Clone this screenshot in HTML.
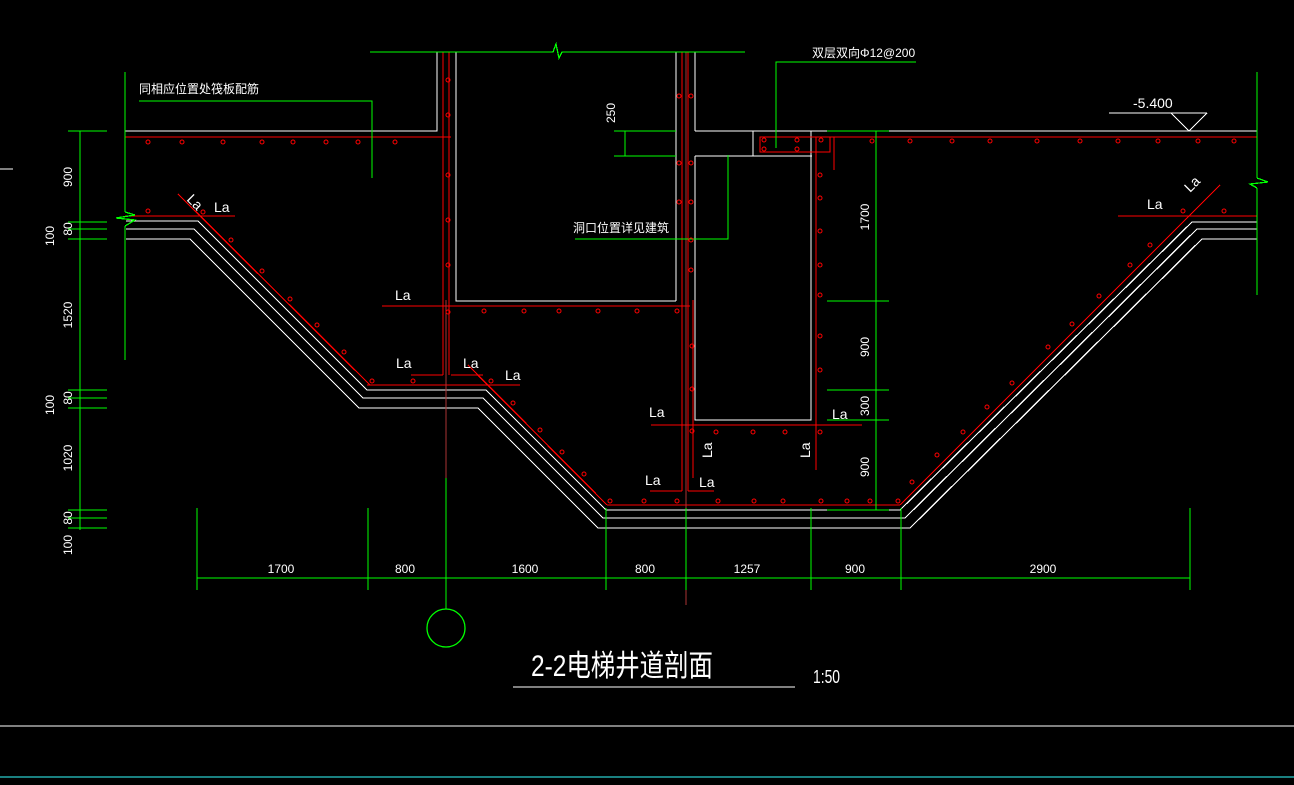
<!DOCTYPE html>
<html><head><meta charset="utf-8"><style>
html,body{margin:0;padding:0;background:#000;}
svg{display:block}
text{font-family:"Liberation Sans","Noto Sans CJK SC",sans-serif;fill:#fff;}
</style></head><body>
<svg width="1294" height="785" viewBox="0 0 1294 785" xmlns="http://www.w3.org/2000/svg">
<rect width="1294" height="785" fill="#000"/>
<g fill="none" stroke-width="1.3" shape-rendering="crispEdges">
<g stroke="#fff">
<line x1="0" y1="169" x2="13" y2="169"/>
<polyline points="125,131 437,131 437,52"/>
<polyline points="456,52 456,301 676,301"/>
<line x1="676" y1="52" x2="676" y2="301"/>
<line x1="695" y1="52" x2="695" y2="131"/>
<line x1="695" y1="131" x2="1257" y2="131"/>
<line x1="695" y1="156" x2="812" y2="156"/>
<line x1="753" y1="131" x2="753" y2="156"/>
<polyline points="695,156 695,420 811,420 811,131"/>
<polyline points="126,221 198,221 367,390 486,390 606,510 900,510 1192,222 1257,222"/>
<polyline points="126,229 194,229 363,398 483,398 603,518 905,518 1197,229 1257,229"/>
<polyline points="126,239 190,239 359,408 478,408 598,528 910,528 1202,239 1257,239"/>
<line x1="1109" y1="113" x2="1207" y2="113"/>
<polyline points="1171,113 1189,131 1207,113"/>
<line x1="513" y1="687" x2="795" y2="687"/>
<line x1="0" y1="726" x2="1294" y2="726"/>
</g>
<line x1="0" y1="777" x2="1294" y2="777" stroke="#3ff"/>
<g stroke="#f00">
<line x1="125" y1="137" x2="451" y2="137"/>
<line x1="443" y1="52" x2="443" y2="375"/>
<line x1="449" y1="52" x2="449" y2="375"/>
<line x1="411" y1="375" x2="443" y2="375"/>
<line x1="451" y1="375" x2="483" y2="375"/>
<line x1="682" y1="52" x2="682" y2="491"/>
<line x1="688" y1="52" x2="688" y2="491"/>
<line x1="693" y1="300" x2="693" y2="478"/>
<line x1="650" y1="491" x2="682" y2="491"/>
<line x1="688" y1="491" x2="714" y2="491"/>
<line x1="760" y1="137" x2="1257" y2="137"/>
<rect x="760" y="137" width="70" height="15"/>
<line x1="816" y1="137" x2="816" y2="470"/>
<line x1="834" y1="137" x2="834" y2="170"/>
<line x1="125" y1="216" x2="235" y2="216"/>
<line x1="178" y1="194" x2="370" y2="385"/>
<line x1="367" y1="385" x2="520" y2="385"/>
<line x1="468" y1="365" x2="607" y2="505"/>
<line x1="607" y1="505" x2="900" y2="505"/>
<line x1="900" y1="505" x2="1220" y2="185"/>
<line x1="1118" y1="216" x2="1257" y2="216"/>
<line x1="382" y1="306" x2="690" y2="306"/>
<line x1="651" y1="425" x2="862" y2="425"/>
</g>
<line x1="686" y1="52" x2="686" y2="605" stroke="#a33"/>
<line x1="446" y1="300" x2="446" y2="478" stroke="#a33"/>
<g stroke="#0f0">
<polyline points="370,52 553,52 556,44 559,58 562,52 745,52"/>
<polyline points="776,148 776,62 916,62"/>
<polyline points="139,101 372,101 372,178"/>
<polyline points="575,239 728,239 728,155"/>
<line x1="125" y1="72" x2="125" y2="212"/>
<line x1="125" y1="226" x2="125" y2="360"/>
<polyline points="125,212 135,215 116,218 135,220 125,226"/>
<line x1="625" y1="131" x2="625" y2="156"/>
<line x1="614" y1="131" x2="676" y2="131"/>
<line x1="614" y1="156" x2="676" y2="156"/>
<line x1="80" y1="131" x2="80" y2="530"/>
<line x1="68" y1="131" x2="107" y2="131"/>
<line x1="68" y1="222" x2="107" y2="222"/><line x1="68" y1="229" x2="107" y2="229"/><line x1="68" y1="239" x2="107" y2="239"/>
<line x1="68" y1="390" x2="107" y2="390"/><line x1="68" y1="398" x2="107" y2="398"/><line x1="68" y1="408" x2="107" y2="408"/>
<line x1="68" y1="510" x2="107" y2="510"/><line x1="68" y1="518" x2="107" y2="518"/><line x1="68" y1="528" x2="107" y2="528"/>
<line x1="876" y1="131" x2="876" y2="510"/>
<line x1="827" y1="131" x2="889" y2="131"/><line x1="827" y1="301" x2="889" y2="301"/><line x1="827" y1="390" x2="889" y2="390"/><line x1="827" y1="420" x2="889" y2="420"/><line x1="827" y1="510" x2="889" y2="510"/>
<line x1="1257" y1="72" x2="1257" y2="178"/>
<polyline points="1257,178 1268,182 1250,184 1257,188"/>
<line x1="1257" y1="188" x2="1257" y2="295"/>
<line x1="197" y1="578" x2="1190" y2="578"/>
<line x1="197" y1="508" x2="197" y2="590"/>
<line x1="368" y1="508" x2="368" y2="590"/>
<line x1="446" y1="478" x2="446" y2="609"/>
<line x1="606" y1="508" x2="606" y2="590"/>
<line x1="686" y1="508" x2="686" y2="590"/>
<line x1="811" y1="508" x2="811" y2="590"/>
<line x1="901" y1="508" x2="901" y2="590"/>
<line x1="1190" y1="508" x2="1190" y2="590"/>
<circle cx="446" cy="628" r="19" shape-rendering="auto"/>
</g>
<g stroke="#f00" stroke-width="1" shape-rendering="auto">
<circle cx="148" cy="142" r="2"/><circle cx="182" cy="142" r="2"/><circle cx="223" cy="142" r="2"/><circle cx="262" cy="142" r="2"/><circle cx="293" cy="142" r="2"/><circle cx="326" cy="142" r="2"/><circle cx="358" cy="142" r="2"/><circle cx="395" cy="142" r="2"/>
<circle cx="148" cy="211" r="2"/><circle cx="203" cy="212" r="2"/><circle cx="231" cy="240" r="2"/><circle cx="262" cy="271" r="2"/><circle cx="290" cy="299" r="2"/><circle cx="317" cy="325" r="2"/><circle cx="344" cy="352" r="2"/>
<circle cx="372" cy="381" r="2"/><circle cx="413" cy="381" r="2"/><circle cx="491" cy="381" r="2"/><circle cx="513" cy="403" r="2"/><circle cx="540" cy="430" r="2"/><circle cx="562" cy="452" r="2"/><circle cx="584" cy="474" r="2"/>
<circle cx="448" cy="312" r="2"/><circle cx="484" cy="311" r="2"/><circle cx="524" cy="311" r="2"/><circle cx="559" cy="311" r="2"/><circle cx="598" cy="311" r="2"/><circle cx="637" cy="311" r="2"/><circle cx="677" cy="311" r="2"/>
<circle cx="448" cy="80" r="2"/><circle cx="448" cy="115" r="2"/><circle cx="448" cy="175" r="2"/><circle cx="448" cy="220" r="2"/><circle cx="448" cy="265" r="2"/>
<circle cx="679" cy="96" r="2"/><circle cx="691" cy="96" r="2"/><circle cx="679" cy="163" r="2"/><circle cx="691" cy="163" r="2"/><circle cx="679" cy="202" r="2"/><circle cx="691" cy="202" r="2"/><circle cx="691" cy="240" r="2"/><circle cx="691" cy="270" r="2"/><circle cx="692" cy="346" r="2"/><circle cx="692" cy="389" r="2"/>
<circle cx="764" cy="140" r="2"/><circle cx="797" cy="140" r="2"/><circle cx="764" cy="149" r="2"/><circle cx="797" cy="149" r="2"/><circle cx="821" cy="140" r="2"/><circle cx="872" cy="141" r="2"/><circle cx="910" cy="141" r="2"/><circle cx="952" cy="141" r="2"/><circle cx="990" cy="141" r="2"/><circle cx="1037" cy="141" r="2"/><circle cx="1080" cy="141" r="2"/><circle cx="1118" cy="141" r="2"/><circle cx="1158" cy="141" r="2"/><circle cx="1198" cy="141" r="2"/><circle cx="1234" cy="141" r="2"/>
<circle cx="820" cy="175" r="2"/><circle cx="820" cy="198" r="2"/><circle cx="820" cy="231" r="2"/><circle cx="820" cy="265" r="2"/><circle cx="820" cy="295" r="2"/><circle cx="820" cy="336" r="2"/><circle cx="820" cy="370" r="2"/>
<circle cx="692" cy="431" r="2"/><circle cx="716" cy="432" r="2"/><circle cx="753" cy="432" r="2"/><circle cx="785" cy="432" r="2"/><circle cx="820" cy="432" r="2"/>
<circle cx="610" cy="501" r="2"/><circle cx="644" cy="501" r="2"/><circle cx="677" cy="501" r="2"/><circle cx="718" cy="501" r="2"/><circle cx="754" cy="501" r="2"/><circle cx="783" cy="501" r="2"/><circle cx="821" cy="501" r="2"/><circle cx="847" cy="501" r="2"/><circle cx="870" cy="501" r="2"/><circle cx="898" cy="501" r="2"/>
<circle cx="912" cy="482" r="2"/><circle cx="937" cy="455" r="2"/><circle cx="963" cy="432" r="2"/><circle cx="987" cy="407" r="2"/><circle cx="1012" cy="383" r="2"/><circle cx="1048" cy="347" r="2"/><circle cx="1072" cy="324" r="2"/><circle cx="1099" cy="296" r="2"/><circle cx="1130" cy="265" r="2"/><circle cx="1150" cy="245" r="2"/><circle cx="1183" cy="211" r="2"/><circle cx="1224" cy="211" r="2"/>
</g>
</g>
<g font-size="14">
<text x="139" y="93" font-size="12">同相应位置处筏板配筋</text>
<text x="812" y="57" font-size="12">双层双向Φ12@200</text>
<text x="573" y="232" font-size="12">洞口位置详见建筑</text>
<text x="1133" y="108" font-size="14">-5.400</text>
<text x="214" y="212">La</text>
<text x="395" y="300">La</text>
<text x="396" y="368">La</text>
<text x="463" y="368">La</text>
<text x="505" y="380">La</text>
<text x="649" y="417">La</text>
<text x="832" y="419">La</text>
<text x="645" y="485">La</text>
<text x="699" y="487">La</text>
<text x="1147" y="209">La</text>
<text transform="translate(186,200) rotate(45)">La</text>
<text transform="translate(1190,193) rotate(-45)">La</text>
<text transform="translate(712,458) rotate(-90)">La</text>
<text transform="translate(810,458) rotate(-90)">La</text>
</g>
<g font-size="12" text-anchor="middle">
<text x="281" y="573">1700</text><text x="405" y="573">800</text><text x="525" y="573">1600</text><text x="645" y="573">800</text><text x="747" y="573">1257</text><text x="855" y="573">900</text><text x="1043" y="573">2900</text>
<text transform="translate(615,113) rotate(-90)">250</text>
<text transform="translate(72,177) rotate(-90)">900</text>
<text transform="translate(72,229) rotate(-90)">80</text>
<text transform="translate(54,236) rotate(-90)">100</text>
<text transform="translate(72,315) rotate(-90)">1520</text>
<text transform="translate(72,398) rotate(-90)">80</text>
<text transform="translate(54,405) rotate(-90)">100</text>
<text transform="translate(72,458) rotate(-90)">1020</text>
<text transform="translate(72,518) rotate(-90)">80</text>
<text transform="translate(72,545) rotate(-90)">100</text>
<text transform="translate(869,217) rotate(-90)">1700</text>
<text transform="translate(869,347) rotate(-90)">900</text>
<text transform="translate(869,406) rotate(-90)">300</text>
<text transform="translate(869,467) rotate(-90)">900</text>
</g>
<text x="531" y="676" font-size="30" textLength="182" lengthAdjust="spacingAndGlyphs">2-2电梯井道剖面</text>
<text x="813" y="683" font-size="18" textLength="27" lengthAdjust="spacingAndGlyphs">1:50</text>
</svg>
</body></html>
